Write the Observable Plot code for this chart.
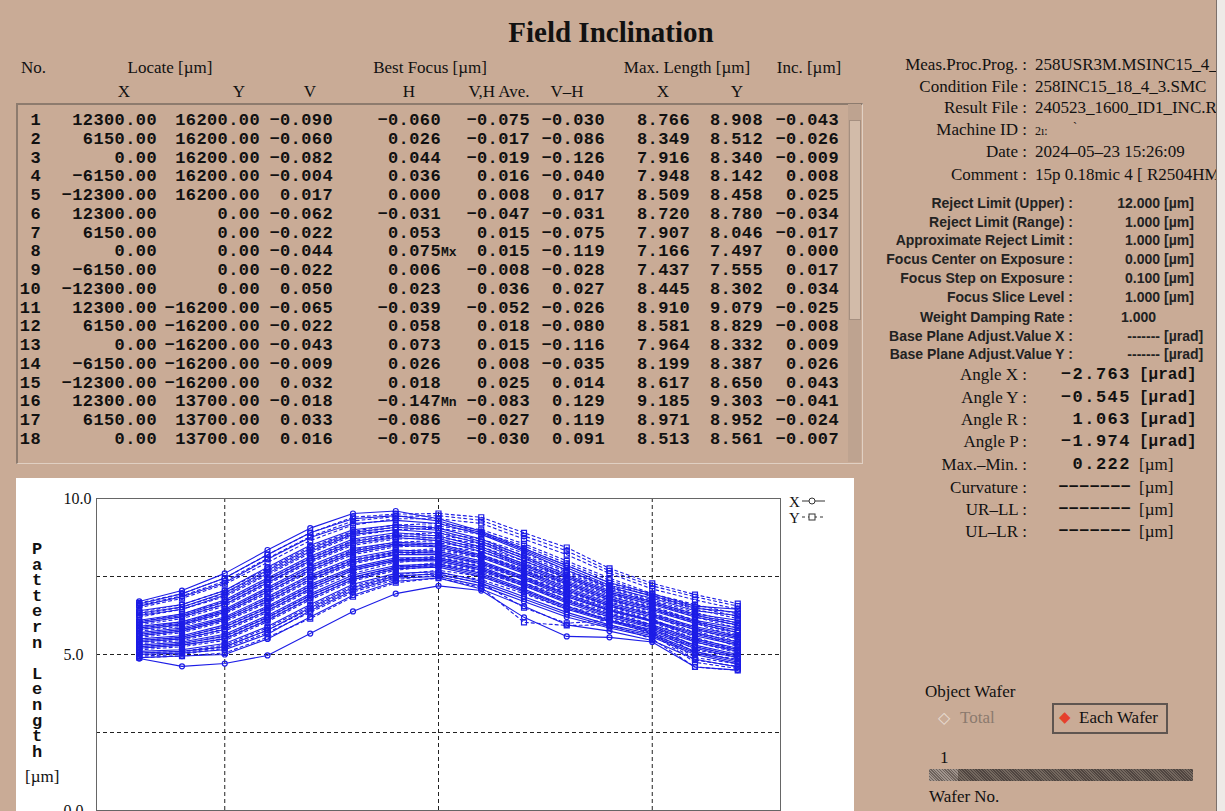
<!DOCTYPE html>
<html><head><meta charset="utf-8">
<script src="https://cdn.jsdelivr.net/npm/d3@7"></script>
<script src="https://cdn.jsdelivr.net/npm/@observablehq/plot@0.6"></script>
<style>
html,body{margin:0;padding:0;}
body{width:1225px;height:811px;overflow:hidden;background:#c9ab96;position:relative;font-family:"Liberation Serif",serif;color:#111;}
.t{position:absolute;white-space:nowrap;}
.serif{font-family:"Liberation Serif",serif;font-size:17px;}
.mono{font-family:"Liberation Mono",monospace;font-weight:bold;font-size:17px;letter-spacing:0.4px;}
.sans{font-family:"Liberation Sans",sans-serif;font-weight:bold;font-size:14px;color:#222;}
.amono{font-family:"Liberation Mono",monospace;font-weight:bold;font-size:17px;letter-spacing:1.5px;}
.umono{font-family:"Liberation Mono",monospace;font-weight:bold;font-size:16px;}
#tablebox{position:absolute;left:16px;top:103px;width:844px;height:358px;border-top:2px solid #8d7b6e;border-left:2px solid #8d7b6e;border-right:1px solid #e0d0c3;border-bottom:1px solid #e0d0c3;}
#scroll{position:absolute;left:848px;top:104px;width:13px;height:358px;background:#bea390;}
#thumb{position:absolute;left:849px;top:120px;width:10px;height:198px;background:#d2bba9;border:1px solid #a58f80;}
#chartpanel{position:absolute;left:16px;top:478px;}
#rightclip{position:absolute;left:0;top:0;width:1225px;height:811px;clip-path:inset(0px 9px 0px 862px);}
#edge{position:absolute;left:1216px;top:0;width:9px;height:811px;background:#eeeae7;border-left:1px solid #7d706a;}
#legend{position:absolute;left:789px;top:494px;font-family:"Liberation Serif",serif;font-size:15px;line-height:16px;}
#legend div{display:flex;align-items:center;height:16px;}
#ylabel{position:absolute;left:29px;top:542px;width:16px;text-align:center;font-family:"Liberation Mono",monospace;font-weight:bold;font-size:17px;line-height:15.6px;white-space:pre;}
#slider{position:absolute;left:929px;top:769px;width:264px;height:12px;background:repeating-linear-gradient(45deg,#74685f 0 1px,#4f4540 1px 2px);}
#sthumb{position:absolute;left:929px;top:769px;width:29px;height:12px;background:repeating-linear-gradient(45deg,#a0948d 0 1px,#6d625c 1px 2px);}
#ewbox{position:absolute;left:1052px;top:703px;width:112px;height:27px;border:2px solid #5f5550;}
</style>
</head><body>
<div id="tablebox"></div>
<div id="scroll"></div><div id="thumb"></div>
<div id="chartpanel"></div>
<div id="ylabel">P
a
t
t
e
r
n
 
L
e
n
g
t
h</div>
<div class="t serif" style="left:25px;top:767px;line-height:20px;">[µm]</div>
<div id="legend">
  <div>X<svg width="26" height="12"><line x1="2" y1="5" x2="25" y2="5" stroke="#333" stroke-width="1"/><circle cx="12" cy="5" r="3" fill="#fff" stroke="#333"/></svg></div>
  <div>Y<svg width="26" height="12"><line x1="2" y1="5" x2="25" y2="5" stroke="#333" stroke-width="1" stroke-dasharray="3,3"/><rect x="9" y="2" width="6" height="6" fill="#fff" stroke="#333"/></svg></div>
</div>
<div id="rightclip"></div>
<div id="edge"></div>
<div id="ewbox"></div>
<div id="slider"></div><div id="sthumb"></div>
<script>
// ---------- chart data ----------
const positions = [-7, -6, -5, -4, -3, -2, -1, 0, 1, 2, 3, 4, 5, 6, 7];
const xSeries = [
  [6.70, 7.05, 7.60, 8.35, 9.05, 9.52, 9.60, 9.35, 8.95, 8.40, 7.85, 7.30, 6.95, 6.55, 6.45],
  [6.62, 6.95, 7.45, 8.20, 8.90, 9.35, 9.45, 9.28, 8.90, 8.35, 7.78, 7.22, 6.88, 6.48, 6.35],
  [6.55, 6.85, 7.30, 8.05, 8.75, 9.20, 9.30, 9.20, 8.85, 8.30, 7.70, 7.15, 6.80, 6.40, 6.25],
  [6.40, 6.60, 7.05, 7.80, 8.50, 9.00, 9.15, 9.05, 8.70, 8.15, 7.55, 7.05, 6.70, 6.30, 6.10],
  [6.32, 6.52, 6.98, 7.70, 8.40, 8.92, 9.08, 8.98, 8.62, 8.08, 7.50, 7.00, 6.65, 6.25, 6.02],
  [6.25, 6.45, 6.90, 7.60, 8.30, 8.85, 9.00, 8.90, 8.55, 8.00, 7.45, 6.95, 6.60, 6.20, 5.95],
  [6.10, 6.30, 6.75, 7.45, 8.15, 8.70, 8.90, 8.80, 8.45, 7.90, 7.35, 6.85, 6.50, 6.10, 5.85],
  [6.05, 6.25, 6.68, 7.38, 8.08, 8.62, 8.82, 8.72, 8.38, 7.85, 7.30, 6.80, 6.45, 6.05, 5.78],
  [6.00, 6.20, 6.60, 7.30, 8.00, 8.55, 8.75, 8.65, 8.30, 7.80, 7.25, 6.75, 6.40, 6.00, 5.70],
  [5.90, 6.05, 6.45, 7.15, 7.85, 8.40, 8.60, 8.55, 8.20, 7.70, 7.15, 6.65, 6.30, 5.90, 5.60],
  [5.85, 6.00, 6.40, 7.08, 7.78, 8.32, 8.55, 8.50, 8.15, 7.65, 7.10, 6.60, 6.25, 5.85, 5.55],
  [5.80, 5.95, 6.35, 7.00, 7.70, 8.25, 8.50, 8.45, 8.10, 7.60, 7.05, 6.55, 6.20, 5.80, 5.50],
  [5.70, 5.85, 6.20, 6.85, 7.55, 8.10, 8.35, 8.30, 8.00, 7.50, 6.95, 6.45, 6.10, 5.70, 5.40],
  [5.65, 5.80, 6.15, 6.78, 7.48, 8.02, 8.28, 8.25, 7.95, 7.45, 6.90, 6.42, 6.08, 5.65, 5.35],
  [5.60, 5.75, 6.10, 6.70, 7.40, 7.95, 8.20, 8.20, 7.90, 7.40, 6.85, 6.40, 6.05, 5.60, 5.30],
  [5.50, 5.60, 5.95, 6.55, 7.25, 7.80, 8.10, 8.10, 7.80, 7.30, 6.75, 6.30, 5.95, 5.50, 5.20],
  [5.45, 5.55, 5.88, 6.48, 7.18, 7.75, 8.05, 8.05, 7.75, 7.25, 6.70, 6.25, 5.90, 5.45, 5.15],
  [5.40, 5.50, 5.80, 6.40, 7.10, 7.70, 8.00, 8.00, 7.70, 7.20, 6.65, 6.20, 5.85, 5.40, 5.10],
  [5.30, 5.40, 5.65, 6.25, 6.95, 7.55, 7.85, 7.90, 7.60, 7.10, 6.55, 6.10, 5.80, 5.30, 5.00],
  [5.25, 5.35, 5.58, 6.18, 6.88, 7.48, 7.80, 7.85, 7.55, 7.05, 6.50, 6.08, 5.75, 5.25, 4.95],
  [5.20, 5.30, 5.50, 6.10, 6.80, 7.40, 7.75, 7.80, 7.50, 7.00, 6.45, 6.05, 5.70, 5.20, 4.90],
  [5.10, 5.15, 5.35, 5.90, 6.60, 7.25, 7.60, 7.65, 7.35, 6.85, 6.35, 5.95, 5.65, 5.10, 4.80],
  [5.05, 5.10, 5.25, 5.78, 6.50, 7.15, 7.52, 7.58, 7.28, 6.78, 6.28, 5.90, 5.60, 5.05, 4.75],
  [5.00, 5.05, 5.15, 5.65, 6.40, 7.05, 7.45, 7.50, 7.20, 6.70, 6.20, 5.85, 5.55, 5.00, 4.70],
  [4.90, 4.95, 5.00, 5.50, 6.20, 6.90, 7.35, 7.45, 7.10, 6.55, 5.95, 5.75, 5.45, 4.85, 4.60],
  [4.87, 4.62, 4.71, 4.97, 5.67, 6.38, 6.95, 7.20, 7.05, 6.19, 5.58, 5.55, 5.40, 4.60, 4.50]
];
const ySeries = [
  [6.65, 6.95, 7.45, 8.20, 8.90, 9.40, 9.50, 9.52, 9.40, 8.90, 8.43, 7.76, 7.28, 6.92, 6.63],
  [6.58, 6.88, 7.35, 8.08, 8.78, 9.28, 9.42, 9.45, 9.30, 8.80, 8.32, 7.68, 7.20, 6.85, 6.55],
  [6.50, 6.80, 7.25, 7.95, 8.65, 9.15, 9.35, 9.35, 9.20, 8.70, 8.20, 7.60, 7.10, 6.75, 6.45],
  [6.35, 6.60, 7.05, 7.75, 8.45, 8.95, 9.15, 9.20, 9.00, 8.55, 8.00, 7.45, 6.95, 6.60, 6.30],
  [6.28, 6.52, 6.95, 7.65, 8.35, 8.88, 9.08, 9.12, 8.92, 8.48, 7.92, 7.38, 6.90, 6.52, 6.22],
  [6.20, 6.45, 6.85, 7.55, 8.25, 8.80, 9.00, 9.05, 8.85, 8.40, 7.85, 7.30, 6.85, 6.45, 6.15],
  [6.05, 6.30, 6.70, 7.40, 8.10, 8.65, 8.85, 8.90, 8.70, 8.25, 7.70, 7.20, 6.75, 6.35, 6.00],
  [6.00, 6.22, 6.62, 7.32, 8.02, 8.58, 8.78, 8.82, 8.62, 8.18, 7.65, 7.15, 6.70, 6.28, 5.92],
  [5.95, 6.15, 6.55, 7.25, 7.95, 8.50, 8.70, 8.75, 8.55, 8.10, 7.60, 7.10, 6.65, 6.20, 5.85],
  [5.85, 6.05, 6.40, 7.10, 7.80, 8.35, 8.60, 8.65, 8.45, 8.00, 7.50, 7.00, 6.55, 6.10, 5.70],
  [5.80, 5.98, 6.35, 7.02, 7.72, 8.28, 8.52, 8.58, 8.38, 7.92, 7.45, 6.95, 6.50, 6.05, 5.62],
  [5.75, 5.90, 6.30, 6.95, 7.65, 8.20, 8.45, 8.50, 8.30, 7.85, 7.40, 6.90, 6.45, 6.00, 5.55],
  [5.65, 5.80, 6.15, 6.80, 7.50, 8.05, 8.30, 8.40, 8.20, 7.75, 7.30, 6.80, 6.35, 5.85, 5.40],
  [5.60, 5.75, 6.10, 6.72, 7.42, 7.98, 8.25, 8.35, 8.15, 7.70, 7.25, 6.75, 6.30, 5.78, 5.32],
  [5.55, 5.70, 6.05, 6.65, 7.35, 7.90, 8.20, 8.30, 8.10, 7.65, 7.20, 6.70, 6.25, 5.70, 5.25],
  [5.45, 5.55, 5.90, 6.50, 7.20, 7.75, 8.05, 8.15, 7.95, 7.50, 7.05, 6.60, 6.15, 5.55, 5.15],
  [5.40, 5.50, 5.82, 6.42, 7.12, 7.68, 8.00, 8.10, 7.90, 7.45, 7.00, 6.55, 6.10, 5.48, 5.10],
  [5.35, 5.45, 5.75, 6.35, 7.05, 7.60, 7.95, 8.05, 7.85, 7.40, 6.95, 6.50, 6.05, 5.40, 5.05],
  [5.25, 5.35, 5.60, 6.20, 6.90, 7.45, 7.80, 7.95, 7.75, 7.30, 6.85, 6.40, 5.95, 5.25, 4.95],
  [5.20, 5.30, 5.52, 6.12, 6.82, 7.40, 7.75, 7.90, 7.70, 7.25, 6.78, 6.35, 5.90, 5.15, 4.90],
  [5.15, 5.25, 5.45, 6.05, 6.75, 7.35, 7.70, 7.85, 7.65, 7.20, 6.70, 6.30, 5.85, 5.05, 4.85],
  [5.05, 5.10, 5.30, 5.85, 6.55, 7.20, 7.55, 7.70, 7.50, 7.05, 6.55, 6.20, 5.75, 4.90, 4.70],
  [5.00, 5.05, 5.25, 5.78, 6.45, 7.10, 7.48, 7.62, 7.40, 6.95, 6.45, 6.15, 5.70, 4.82, 4.62],
  [4.95, 5.00, 5.20, 5.70, 6.35, 7.00, 7.40, 7.55, 7.30, 6.50, 6.00, 6.10, 5.65, 4.75, 4.55],
  [4.90, 4.95, 5.05, 5.55, 6.15, 6.85, 7.30, 7.45, 7.15, 6.03, 5.93, 5.95, 5.50, 4.60, 4.49]
];
const yTicks = [0, 5, 10];
const gridY = [2.5, 5, 7.5];
const gridX = [-5, 0, 5];

// ---------- table data ----------
const tNo = ["1","2","3","4","5","6","7","8","9","10","11","12","13","14","15","16","17","18"];
const tX = ["12300.00","6150.00","0.00","−6150.00","−12300.00","12300.00","6150.00","0.00","−6150.00","−12300.00","12300.00","6150.00","0.00","−6150.00","−12300.00","12300.00","6150.00","0.00"];
const tY = ["16200.00","16200.00","16200.00","16200.00","16200.00","0.00","0.00","0.00","0.00","0.00","−16200.00","−16200.00","−16200.00","−16200.00","−16200.00","13700.00","13700.00","13700.00"];
const tV = ["−0.090","−0.060","−0.082","−0.004","0.017","−0.062","−0.022","−0.044","−0.022","0.050","−0.065","−0.022","−0.043","−0.009","0.032","−0.018","0.033","0.016"];
const tH = ["−0.060","0.026","0.044","0.036","0.000","−0.031","0.053","0.075","0.006","0.023","−0.039","0.058","0.073","0.026","0.018","−0.147","−0.086","−0.075"];
const tHmark = ["","","","","","","","Mx","","","","","","","","Mn","",""];
const tAve = ["−0.075","−0.017","−0.019","0.016","0.008","−0.047","0.015","0.015","−0.008","0.036","−0.052","0.018","0.015","0.008","0.025","−0.083","−0.027","−0.030"];
const tVH = ["−0.030","−0.086","−0.126","−0.040","0.017","−0.031","−0.075","−0.119","−0.028","0.027","−0.026","−0.080","−0.116","−0.035","0.014","0.129","0.119","0.091"];
const tMX = ["8.766","8.349","7.916","7.948","8.509","8.720","7.907","7.166","7.437","8.445","8.910","8.581","7.964","8.199","8.617","9.185","8.971","8.513"];
const tMY = ["8.908","8.512","8.340","8.142","8.458","8.780","8.046","7.497","7.555","8.302","9.079","8.829","8.332","8.387","8.650","9.303","8.952","8.561"];
const tInc = ["−0.043","−0.026","−0.009","0.008","0.025","−0.034","−0.017","0.000","0.017","0.034","−0.025","−0.008","0.009","0.026","0.043","−0.041","−0.024","−0.007"];

function put(parent, text, x, yc, opts = {}) {
  const d = document.createElement("div");
  d.className = "t " + (opts.cls || "");
  d.textContent = text;
  const lh = opts.lh || 20;
  d.style.lineHeight = lh + "px";
  d.style.top = (yc - lh / 2) + "px";
  if (opts.anchor === "end") { d.style.left = (x - 400) + "px"; d.style.width = "400px"; d.style.textAlign = "right"; }
  else if (opts.anchor === "middle") { d.style.left = (x - 200) + "px"; d.style.width = "400px"; d.style.textAlign = "center"; }
  else d.style.left = x + "px";
  if (opts.style) Object.assign(d.style, opts.style);
  parent.appendChild(d);
  return d;
}
const B = document.body;

// title and headers
put(B, "Field Inclination", 611, 32, {anchor: "middle", lh: 34, style: {fontFamily: "Liberation Serif, serif", fontWeight: "bold", fontSize: "29px"}});
[["No.", 21, "start"], ["Locate [µm]", 170, "middle"], ["Best Focus [µm]", 430, "middle"], ["Max. Length [µm]", 687, "middle"], ["Inc. [µm]", 809, "middle"]]
  .forEach(([s, x, a]) => put(B, s, x, 68, {cls: "serif", anchor: a}));
[["X", 124], ["Y", 239], ["V", 310], ["H", 409], ["V,H Ave.", 499], ["V–H", 567], ["X", 663], ["Y", 737]]
  .forEach(([s, x]) => put(B, s, x, 92, {cls: "serif", anchor: "middle"}));

// table rows
const cols = [[tNo, 41], [tX, 157], [tY, 260], [tV, 333], [tH, 441], [tAve, 530], [tVH, 605], [tMX, 690], [tMY, 763], [tInc, 839]];
for (let i = 0; i < tNo.length; i++) {
  const yc = 121 + i * 18.76;
  cols.forEach(([arr, x]) => put(B, arr[i], x, yc, {cls: "mono", anchor: "end"}));
  if (tHmark[i]) put(B, tHmark[i], 441, yc + 1, {cls: "mono", style: {fontSize: "13px", letterSpacing: "0px"}});
}

// right panel
const R = document.getElementById("rightclip");
const topLabels = ["Meas.Proc.Prog. :", "Condition File :", "Result File :", "Machine ID :", "Date :", "Comment :"];
const topValues = ["258USR3M.MSINC15_4_3", "258INC15_18_4_3.SMC", "240523_1600_ID1_INC.RES", "", "2024–05–23 15:26:09", "15p 0.18mic 4 [ R2504HM ]"];
const topY = [65, 87, 108, 130, 152, 175];
topLabels.forEach((s, i) => {
  put(R, s, 1027, topY[i], {cls: "serif", anchor: "end"});
  if (topValues[i]) put(R, topValues[i], 1035, topY[i], {cls: "serif"});
});
put(R, "2ı:", 1035, 131, {cls: "serif", style: {fontSize: "12px"}});
put(R, "ˋ", 1073, 127, {cls: "serif", style: {fontSize: "12px"}});

const rejLabels = ["Reject Limit (Upper) :", "Reject Limit (Range) :", "Approximate Reject Limit :", "Focus Center on Exposure :", "Focus Step on Exposure :", "Focus Slice Level :", "Weight Damping Rate :", "Base Plane Adjust.Value X :", "Base Plane Adjust.Value Y :"];
const rejNums = ["12.000", "1.000", "1.000", "0.000", "0.100", "1.000", "1.000", "-------", "-------"];
const rejUnits = ["[µm]", "[µm]", "[µm]", "[µm]", "[µm]", "[µm]", "", "[µrad]", "[µrad]"];
const rejY = [203, 222, 240, 259, 278, 297, 317, 336, 354];
rejLabels.forEach((s, i) => {
  put(R, s, 1073, rejY[i], {cls: "sans", anchor: "end"});
  if (i === 6) put(R, rejNums[i], 1121, rejY[i], {cls: "sans"});
  else put(R, rejNums[i], 1160, rejY[i], {cls: "sans", anchor: "end"});
  if (rejUnits[i]) put(R, rejUnits[i], 1164, rejY[i], {cls: "sans"});
});

const angLabels = ["Angle X :", "Angle Y :", "Angle R :", "Angle P :", "Max.–Min. :", "Curvature :", "UR–LL :", "UL–LR :"];
const angNums = ["−2.763", "−0.545", "1.063", "−1.974", "0.222", "−−−−−−−", "−−−−−−−", "−−−−−−−"];
const angUnits = ["[µrad]", "[µrad]", "[µrad]", "[µrad]", "[µm]", "[µm]", "[µm]", "[µm]"];
const angY = [375, 398, 420, 442, 465, 488, 510, 532];
angLabels.forEach((s, i) => {
  put(R, s, 1027, angY[i], {cls: "serif", anchor: "end"});
  put(R, angNums[i], 1131, angY[i], {cls: "amono", anchor: "end", style: i >= 5 ? {letterSpacing: "0.2px"} : {}});
  put(R, angUnits[i], 1139, angY[i], {cls: i < 4 ? "umono" : "serif"});
});

// object wafer
put(B, "Object Wafer", 925, 692, {cls: "serif"});
put(B, "◇", 938, 718, {style: {fontFamily: "DejaVu Sans", fontSize: "16px", color: "#e8dcd2"}});
put(B, "Total", 960, 718, {cls: "serif", style: {color: "#8b7a6e"}});
put(B, "◆", 1059, 717, {style: {fontFamily: "DejaVu Sans", fontSize: "15px", color: "#e5402c"}});
put(B, "Each Wafer", 1079, 718, {cls: "serif"});
put(B, "1", 940, 758, {cls: "serif"});
put(B, "Wafer No.", 929, 797, {cls: "serif"});

// ---------- chart ----------
const blue = "#1c1ce6";
const xRows = xSeries.flatMap((s, i) => s.map((v, j) => ({id: "X" + i, pos: positions[j], len: v})));
const yRows = ySeries.flatMap((s, i) => s.map((v, j) => ({id: "Y" + i, pos: positions[j], len: v})));

const chart = Plot.plot({
  width: 838,
  height: 335,
  marginLeft: 80,
  marginRight: 74,
  marginTop: 20,
  marginBottom: 3,
  x: {domain: [-8, 8], axis: null},
  y: {domain: [0, 10]},
  style: {background: "#fff", fontFamily: "Liberation Serif, serif", fontSize: "16px", color: "#111", overflow: "visible"},
  marks: [
    Plot.ruleY(gridY, {stroke: "#222", strokeDasharray: "4,3", strokeWidth: 1}),
    Plot.ruleX(gridX, {stroke: "#222", strokeDasharray: "4,3", strokeWidth: 1}),
    Plot.line(yRows, {x: "pos", y: "len", z: "id", stroke: blue, strokeWidth: 1.1, strokeDasharray: "3,3"}),
    Plot.line(xRows, {x: "pos", y: "len", z: "id", stroke: blue, strokeWidth: 1.1}),
    Plot.dot(yRows, {x: "pos", y: "len", symbol: "square", r: 2.8, stroke: blue, fill: "none", strokeWidth: 1.2}),
    Plot.dot(xRows, {x: "pos", y: "len", symbol: "circle", r: 2.5, stroke: blue, fill: "none", strokeWidth: 1.2}),
    Plot.frame({stroke: "#666"}),
    Plot.axisY({ticks: yTicks, tickSize: 0, tickPadding: 0, dx: -33, textAnchor: "start", tickFormat: d => d.toFixed(1), label: null})
  ]
});
document.getElementById("chartpanel").appendChild(chart);
</script>
</body></html>
